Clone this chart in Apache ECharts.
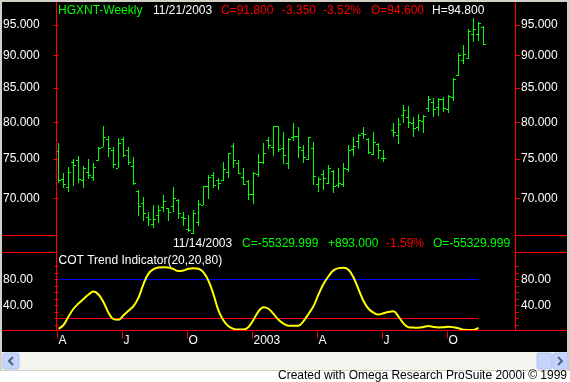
<!DOCTYPE html>
<html><head><meta charset="utf-8">
<script src="https://cdn.jsdelivr.net/npm/echarts@6/dist/echarts.min.js"></script>
<style>html,body{margin:0;padding:0;background:#ffffff;}#c{width:570px;height:382px;}</style>
</head><body><div id="c"></div>
<script>
// ---- data (weekly bars, first bar week of 4/5/2002, last 11/21/2003) ----
const opens = [76.09,72.43,71.38,74.63,74.9,72.3,73.37,72.69,74.86,76.59,
77.68,76.22,73.81,77.68,76.22,74.11,70.95,69.39,67.78,66.87,
67.98,68.98,68.78,69.06,69.8,67.78,66.33,65.89,67.15,69.14,
71.59,72.9,72.27,72.27,73.33,76.72,74.46,72.65,72.14,70.5,
73.03,74.59,77.54,76.59,79.48,76.45,74.46,77.99,78.12,76.22,
74.99,76.45,71.8,73.03,71.97,73.46,71.63,71.8,73.72,76.31,
77.4,78.5,77.72,75.69,77.04,75.12,null,78.96,78.26,81.07,
80.83,79.98,79.42,80.26,82.04,82.91,82.18,83.39,81.93,83.73,
86.94,89.33,89.59,93.46,93.5,94.6];
const highs = [77.21,73.16,73.94,74.99,75.42,74.15,74.99,74.54,76.59,79.52,
78.17,76.67,77.81,78.03,76.59,75.25,71.04,70.13,68.34,69.18,
69.18,70.41,68.86,71.46,69.88,68.3,67.98,68.58,69.8,71.55,
72.94,73.33,72.52,74.63,75.82,77.17,74.9,73.85,72.3,73.33,
75.69,77.17,77.99,79.52,79.52,78.68,77.85,79.94,79.38,76.9,
77.99,77.31,72.65,73.59,74.24,73.59,73.85,74.5,76.9,77.99,
78.4,79.38,77.85,78.68,77.17,76.22,null,79.9,80.6,82.51,
82.37,80.83,81.21,81.03,83.83,83.58,83.49,83.73,83.98,86.58,
90.37,91.66,94.33,96.2,95.5,94.8];
const lows = [71.89,71.25,70.83,71.55,71.89,71.25,72.4,72.21,74.77,76.59,
75.25,73.89,73.81,75.33,74.2,71.63,67.9,67.3,66.71,66.48,
67.06,68.3,67.23,68.3,67.5,66.71,65.94,65.74,66.71,69.14,
69.95,71.33,71.04,72.21,72.6,73.89,73.11,71.71,69.8,69.3,
72.69,74.41,76.36,75.42,76.0,74.41,73.72,77.49,75.2,74.54,
74.86,71.71,70.83,71.08,71.84,70.7,71.33,71.42,73.37,75.46,
76.36,77.72,75.69,75.55,75.07,74.68,null,78.03,76.99,79.9,
79.28,78.03,78.86,78.58,81.5,80.74,80.93,81.5,81.36,83.14,
86.88,88.7,89.44,92.24,92.41,91.7];
const closes = [72.31,71.8,73.33,74.24,72.4,73.85,72.9,74.02,76.45,77.95,
76.45,74.37,77.13,75.55,74.63,71.92,69.06,68.26,67.54,67.5,
68.58,69.67,68.34,70.0,68.26,67.66,66.2,68.26,69.3,71.55,
72.65,71.63,71.89,73.68,75.78,74.86,73.16,71.76,70.57,73.2,
74.59,75.78,76.94,79.48,76.4,75.55,77.76,78.08,76.63,75.33,
77.95,72.77,72.47,72.56,73.81,71.55,71.89,73.81,76.18,76.72,
78.3,78.36,76.0,77.36,76.22,75.12,null,78.72,79.8,81.79,
80.04,79.28,80.36,80.97,83.39,81.93,83.34,82.04,83.83,86.38,
90.11,90.22,94.05,94.38,95.28,91.8];
// COT Trend Indicator(20,20,80) – one value per week, ends 11/14/2003
const cot = [4,10,23,35,43,50,57,61.5,57,45,
29,19,18,25,32,39,52,73,89,96,
98.5,99,98.5,96,93,94,96.5,97.5,96.5,91,
78,57,32,17,8,4,3,3,7,18,
31,37.5,35,27,18,12,9,9,9,16,
27,39,57,73,85,94,97.5,98,95,83,
65,47,35,29,26,28,30,31,23,12.5,
6.5,6,5.7,7,8.4,7,6.3,6.5,7.3,6.5,
5,2.7,2.5,2.5,5.5];
const upperLevel = 80;
const lowerLevel = 20;
const priceTicks = [70,75,80,85,90,95];
const cotLabelTicks = [40,80];
const cotMinorTicks = [10,20,30,40,50,60,70,80,90,100];
const quarterIdx = [0,13,26,39,52,65,78];
const quarterLabels = ['A','J','O','2003','A','J','O'];

// ---- chart ----
const FF = '"Liberation Sans", Arial, Helvetica, sans-serif';
const BAR_COLOR = '#00ff00';
const RED = '#ff0000';
const BLUE = '#0000ff';
const X_MIN = -0.5, X_MAX = 91.3;

const ohlc = [];
for (let i = 0; i < opens.length; i++) {
  if (opens[i] != null) ohlc.push([i, opens[i], highs[i], lows[i], closes[i]]);
}
const cotData = cot.map((v, i) => [i, v]);
const lastCot = cot.length - 1;

function renderOHLC(params, api) {
  const i = api.value(0);
  const pO = api.coord([i, api.value(1)]);
  const pH = api.coord([i, api.value(2)]);
  const pL = api.coord([i, api.value(3)]);
  const pC = api.coord([i, api.value(4)]);
  const x = Math.floor(pH[0]);
  const yH = Math.round(pH[1]), yL = Math.round(pL[1]);
  const yO = Math.round(pO[1]), yC = Math.round(pC[1]);
  const st = {fill: BAR_COLOR};
  return {type: 'group', children: [
    {type: 'rect', shape: {x: x, y: yH, width: 1, height: Math.max(1, yL - yH)}, style: st},
    {type: 'rect', shape: {x: x - 2, y: yO, width: 2, height: 1}, style: st},
    {type: 'rect', shape: {x: x + 1, y: yC, width: 2, height: 1}, style: st}
  ]};
}

function txt(text, x, y, color, align) {
  return {type: 'text', x: x, y: y, z: 100, silent: true,
    style: {text: text, fill: color, font: '12px ' + FF,
      textAlign: align || 'left', textVerticalAlign: 'middle', align: align || 'left', verticalAlign: 'middle'}};
}
function line(x1, y1, x2, y2, color) {
  return {type: 'line', z: 50, silent: true, shape: {x1: x1, y1: y1, x2: x2, y2: y2}, style: {stroke: color, lineWidth: 1}};
}

function priceAxis(pos, margin) {
  return {gridIndex: 0, type: 'log', logBase: 10, min: 65.62, max: 98.93, position: pos,
    axisLine: {show: false}, splitLine: {show: false},
    axisTick: {show: true, customValues: priceTicks, length: 5, lineStyle: {color: RED, width: 1}},
    axisLabel: {customValues: priceTicks, formatter: v => Number(v).toFixed(3), color: '#ffffff',
      fontFamily: FF, fontSize: 12, align: 'left', margin: margin}};
}
// 0.65 px per unit: level lines fall exactly on pixel rows
function cotAxis(pos, margin) {
  return {gridIndex: 1, type: 'value', min: 0, max: 122.3077, position: pos,
    axisLine: {show: false}, splitLine: {show: false},
    axisTick: {show: true, customValues: cotMinorTicks, length: 4, lineStyle: {color: RED, width: 1}},
    axisLabel: {customValues: cotLabelTicks, formatter: v => Number(v).toFixed(2), color: '#ffffff',
      fontFamily: FF, fontSize: 12, align: 'left', margin: margin}};
}

const chart = echarts.init(document.getElementById('c'), null, {renderer: 'canvas'});
chart.setOption({
  animation: false,
  backgroundColor: 'transparent',
  grid: [
    {left: 56, top: 2, width: 459, height: 233},
    {left: 56, top: 252, width: 459, height: 79.5}
  ],
  xAxis: [
    {gridIndex: 0, type: 'value', min: X_MIN, max: X_MAX, show: false},
    {gridIndex: 1, type: 'value', min: X_MIN, max: X_MAX,
      axisLine: {show: false}, splitLine: {show: false},
      axisTick: {show: true, customValues: quarterIdx.map(v => v - 0.25), length: 7, lineStyle: {color: RED}},
      axisLabel: {customValues: quarterIdx, formatter: v => quarterLabels[quarterIdx.indexOf(Math.round(v))],
        color: '#ffffff', fontFamily: FF, fontSize: 12, align: 'left', margin: 3}}
  ],
  yAxis: [priceAxis('left', 53), priceAxis('right', 6), cotAxis('left', 53), cotAxis('right', 6)],
  series: [
    {type: 'custom', xAxisIndex: 0, yAxisIndex: 0, renderItem: renderOHLC, data: ohlc,
      encode: {x: 0, y: [1, 2, 3, 4]}, z: 5},
    {type: 'line', xAxisIndex: 1, yAxisIndex: 2, data: [[0, upperLevel], [lastCot, upperLevel]],
      symbol: 'none', color: BLUE, lineStyle: {color: BLUE, width: 1, opacity: 1}, emphasis: {disabled: true}, z: 3},
    {type: 'line', xAxisIndex: 1, yAxisIndex: 2, data: [[0, lowerLevel], [lastCot, lowerLevel]],
      symbol: 'none', color: RED, lineStyle: {color: RED, width: 1, opacity: 1}, emphasis: {disabled: true}, z: 3},
    {type: 'line', xAxisIndex: 1, yAxisIndex: 2, data: cotData, smooth: 0.4, clip: false,
      symbol: 'none', lineStyle: {color: '#ffff00', width: 2}, z: 4}
  ],
  graphic: [
    {type: 'rect', z: -10, silent: true, shape: {x: 0, y: 0, width: 570, height: 371}, style: {fill: '#d4d0c8'}},
    {type: 'rect', z: -9, silent: true, shape: {x: 2, y: 2, width: 565, height: 350}, style: {fill: '#000000'}},
    // frame lines
    line(56.5, 2, 56.5, 331, RED),
    line(515.5, 2, 515.5, 331, RED),
    line(2, 330.5, 567, 330.5, RED),
    line(2, 235.5, 56, 235.5, RED), line(516, 235.5, 567, 235.5, RED),
    line(2, 252.5, 56, 252.5, RED), line(516, 252.5, 567, 252.5, RED),
    // header line 1
    txt('HGXNT-Weekly', 58, 11, '#00ff00'),
    txt('11/21/2003', 153, 11, '#ffffff'),
    txt('C=91.800', 221, 11, RED),
    txt('-3.350', 282, 11, RED),
    txt('-3.52%', 323, 11, RED),
    txt('O=94.600', 371, 11, RED),
    txt('H=94.800', 432, 11, '#ffffff'),
    // header line 2
    txt('11/14/2003', 173, 243.5, '#ffffff'),
    txt('C=-55329.999', 242, 243.5, '#00ff00'),
    txt('+893.000', 328, 243.5, '#00ff00'),
    txt('-1.59%', 386, 243.5, RED),
    txt('O=-55329.999', 433, 243.5, '#00ff00'),
    txt('COT Trend Indicator(20,20,80)', 58.5, 261, '#ffffff'),
    // scrollbar
    {type: 'rect', z: -8, silent: true, shape: {x: 2, y: 352, width: 565, height: 18}, style: {fill: '#f5f4ef'}},
    {type: 'rect', z: 60, silent: true, shape: {x: 3, y: 353, width: 16, height: 16, r: 2}, style: {fill: '#c4d4fc', stroke: '#b0c4f0', lineWidth: 1}},
    {type: 'polyline', z: 61, silent: true, shape: {points: [[13, 357], [9, 361], [13, 365]]}, style: {stroke: '#4d6185', lineWidth: 2, fill: null}},
    {type: 'rect', z: 60, silent: true, shape: {x: 537, y: 353, width: 15, height: 16, r: 2}, style: {fill: '#c4d4fc', stroke: '#b0c4f0', lineWidth: 1}},
    line(541.5, 357, 541.5, 365, '#8aa6e8'), line(543.5, 357, 543.5, 365, '#8aa6e8'),
    line(545.5, 357, 545.5, 365, '#8aa6e8'), line(547.5, 357, 547.5, 365, '#8aa6e8'),
    {type: 'rect', z: 60, silent: true, shape: {x: 553, y: 353, width: 15, height: 16, r: 2}, style: {fill: '#c4d4fc', stroke: '#b0c4f0', lineWidth: 1}},
    {type: 'polyline', z: 61, silent: true, shape: {points: [[558, 357], [562, 361], [558, 365]]}, style: {stroke: '#4d6185', lineWidth: 2, fill: null}},
    // footer
    {type: 'rect', z: -8, silent: true, shape: {x: 0, y: 371, width: 570, height: 11}, style: {fill: '#ffffff'}},
    txt('Created with Omega Research ProSuite 2000i \u00a9 1999', 567, 376, '#000000', 'right')
  ]
});
</script>
</body></html>
